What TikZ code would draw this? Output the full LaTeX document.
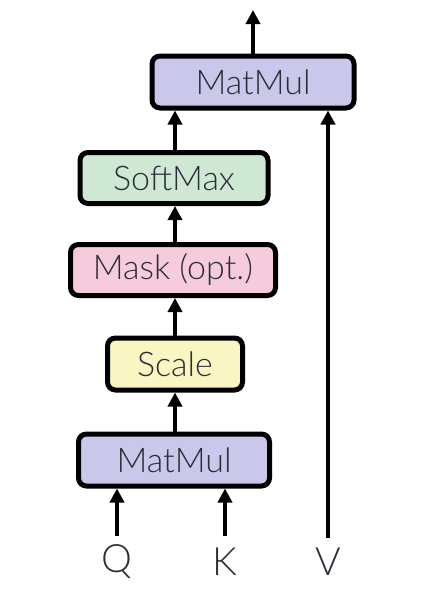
\documentclass[tikz,border=0pt]{standalone}
\usepackage{fontspec}
\IfFontExistsTF{Lato Light}{\setmainfont{Lato Light}}{\setmainfont{Liberation Sans}}
\usetikzlibrary{arrows.meta}
\definecolor{matmulc}{RGB}{201,200,234}
\definecolor{softc}{RGB}{206,232,212}
\definecolor{maskc}{RGB}{246,204,220}
\definecolor{scalec}{RGB}{250,246,196}
\definecolor{txtc}{RGB}{45,45,55}
\tikzset{
  blk/.style={draw=black, line width=5pt, rounded corners=8pt, inner sep=0pt,
    font=\fontsize{34}{34}\selectfont, text=txtc},
  arr/.style={line width=4.5pt, -{Triangle[width=14pt,length=14pt]}},
  lbl/.style={font=\fontsize{39}{39}\selectfont, text=txtc, inner sep=0pt}
}
\begin{document}
\begin{tikzpicture}[x=1pt,y=1pt]
\useasboundingbox (0,0) rectangle (439,-605);
\node[blk, fill=matmulc, minimum width=202pt, minimum height=52pt] (mm2) at (253,-82) {MatMul};
\node[blk, fill=softc, minimum width=188pt, minimum height=51pt] (soft) at (174,-178) {SoftMax};
\node[blk, fill=maskc, minimum width=205pt, minimum height=51pt] (mask) at (173,-270) {Mask (opt.)};
\node[blk, fill=scalec, minimum width=135pt, minimum height=52pt] (scale) at (175,-364) {Scale};
\node[blk, fill=matmulc, minimum width=191pt, minimum height=52pt] (mm1) at (174,-460) {MatMul};
\node[lbl] (q) at (117,-562) {Q};
\node[lbl] (k) at (225,-562) {K};
\node[lbl] (v) at (328,-562) {V};
\coordinate (out) at (253,-10);
\coordinate (qs) at (117,-536);
\coordinate (ks) at (225,-536);
\coordinate (vs) at (328,-538);
\draw[arr] (qs) -- (qs |- mm1.south);
\draw[arr] (ks) -- (ks |- mm1.south);
\draw[arr] (vs) -- (vs |- mm2.south);
\draw[arr] (mm1.north -| scale.south) -- (scale.south);
\draw[arr] (scale.north) -- (scale.north |- mask.south);
\draw[arr] (mask.north -| scale.north) -- (scale.north |- soft.south);
\draw[arr] (soft.north -| scale.north) -- (scale.north |- mm2.south);
\draw[arr] (mm2.north) -- (out);
\end{tikzpicture}
\end{document}
